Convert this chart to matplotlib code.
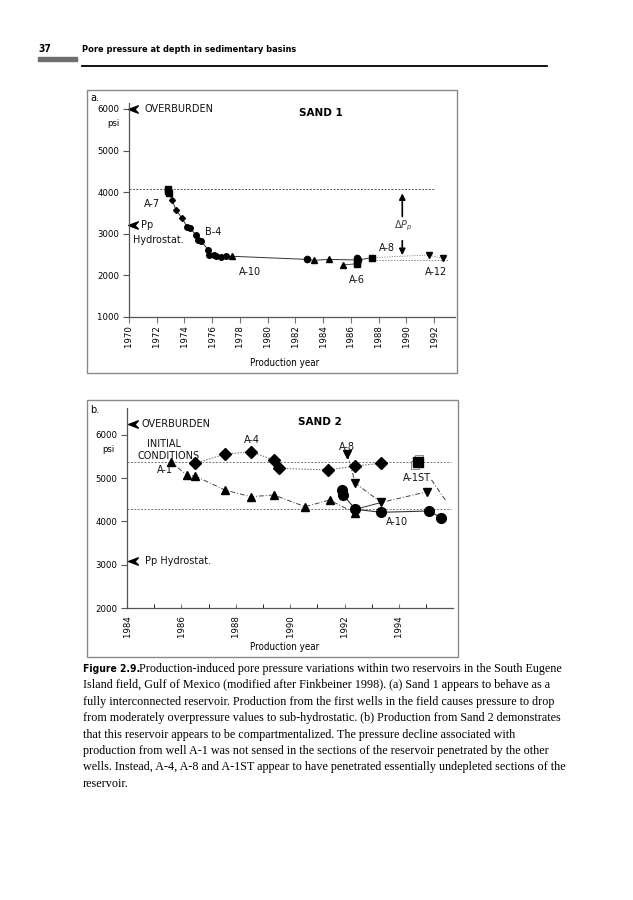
import numpy as np
import matplotlib.pyplot as plt
from matplotlib.path import Path
from matplotlib.patches import Rectangle
from matplotlib.lines import Line2D

# ---- Sand 1 data (year, psi) ----
s1_a7_year = [1972.8, 1972.8, 1972.85]
s1_a7_psi = [4080, 4030, 3990]
s1_dia_year = [1973.1, 1973.4, 1973.8]
s1_dia_psi = [3810, 3570, 3380]
s1_b4_year = [1974.2, 1974.4, 1974.8, 1975.0, 1975.2, 1975.7, 1975.8, 1976.1, 1976.3, 1976.6, 1977.0]
s1_b4_psi = [3170, 3140, 2980, 2860, 2820, 2620, 2500, 2500, 2460, 2440, 2460]
s1_a10_year = [1977.4, 1983.3, 1984.4]
s1_a10_psi = [2460, 2360, 2385]
s1_circ_year = [1982.8, 1986.45, 1986.5]
s1_circ_psi = [2385, 2420, 2370]
s1_a6_tri_year = [1985.4]
s1_a6_tri_psi = [2250]
s1_a6_year = [1986.4, 1986.45]
s1_a6_psi = [2280, 2320]
s1_a8_year = [1987.5]
s1_a8_psi = [2425]
s1_a12_year = [1991.6, 1992.6]
s1_a12_psi = [2490, 2410]
s1_initial = 4085
s1_final = 2370

# ---- Sand 2 data ----
s2_a1_year = [1985.6, 1986.2, 1986.5, 1987.6, 1988.55, 1989.4, 1990.55, 1991.45, 1992.4]
s2_a1_psi = [5383, 5075, 5052, 4728, 4573, 4613, 4342, 4497, 4190]
s2_a4_year = [1986.5, 1987.6, 1988.55, 1989.4, 1989.6, 1991.4, 1992.4, 1993.35]
s2_a4_psi = [5346, 5554, 5614, 5422, 5230, 5191, 5283, 5346]
s2_a8_year = [1992.1, 1992.4, 1993.35, 1995.05]
s2_a8_psi = [5554, 4884, 4440, 4689]
s2_a10_year = [1991.9, 1991.95, 1992.4, 1993.35, 1995.1, 1995.55]
s2_a10_psi = [4728, 4613, 4282, 4213, 4243, 4088]
s2_a1st_year = [1994.7]
s2_a1st_psi = [5383]
s2_a1st_tail_year = [1995.2, 1995.75]
s2_a1st_tail_psi = [4960, 4458]
s2_upper = 5370
s2_lower = 4285

W, H = 633, 900
fig = plt.figure(figsize=(W / 100, H / 100), dpi=100)
fig.patch.set_facecolor('white')

SANS = ['DejaVu Sans']
NARROW = dict(family='DejaVu Sans', stretch='condensed')


def px(x, y):
    return x / W, 1 - y / H


def ax_rect(l, t, r, b):
    return [l / W, 1 - b / H, (r - l) / W, (b - t) / H]


# chevron-like arrow head used for OVERBURDEN / hydrostat marks
chev = Path([(-1, 0), (1, 0.75), (0.3, 0), (1, -0.75), (-1, 0)],
            [Path.MOVETO, Path.LINETO, Path.LINETO, Path.LINETO, Path.CLOSEPOLY])

# ---- page header ----
fig.text(*px(38, 49), '37', fontsize=7.5, fontweight='bold', va='center', **NARROW)
fig.add_artist(Rectangle(px(38, 61), 39 / W, 4 / H, transform=fig.transFigure, color='#6e6e6e'))
fig.text(*px(82, 49), 'Pore pressure at depth in sedimentary basins', fontsize=6.6,
         fontweight='bold', va='center', **NARROW)
fig.add_artist(Line2D([82 / W, 547 / W], [1 - 66 / H, 1 - 66 / H], transform=fig.transFigure,
                      color='black', lw=1.3))

# panel frames
fig.add_artist(Rectangle(px(87, 373), 370 / W, 283 / H, transform=fig.transFigure,
                         fill=False, ec='#8a8a8a', lw=1))
fig.add_artist(Rectangle(px(87, 657), 371 / W, 257 / H, transform=fig.transFigure,
                         fill=False, ec='#8a8a8a', lw=1))


def style_axes(ax):
    for s in ['top', 'right']:
        ax.spines[s].set_visible(False)
    for s in ['left', 'bottom']:
        ax.spines[s].set_color('#555555')
        ax.spines[s].set_linewidth(0.9)
    ax.set_facecolor('none')
    ax.tick_params(axis='y', direction='out', length=4, width=0.8, color='#555555',
                   labelsize=6.8, pad=3)
    for lb in ax.get_yticklabels():
        lb.set_fontstretch('condensed')
    ax.tick_params(axis='x', labelsize=6.8, labelrotation=90, color='#777777')
    for lb in ax.get_xticklabels():
        lb.set_fontstretch('condensed')


# =============== Panel a ===============
ax1 = fig.add_axes(ax_rect(129, 103, 455, 317))
ax1.set_xlim(1970, 1993.5)
ax1.set_ylim(1000, 6144)
ax1.set_yticks([1000, 2000, 3000, 4000, 5000, 6000])
ax1.set_xticks(np.arange(1970, 1993, 2))
ax1.tick_params(axis='x', direction='out', length=4, pad=2)
style_axes(ax1)

ax1.hlines(s1_initial, 1970, 1992, colors='#555555', linestyles=(0, (2, 1.5)), lw=0.7)
ax1.hlines(s1_final, 1987.8, 1993.0, colors='#888888', linestyles=(0, (1.5, 1.5)), lw=0.7)

curve_x = s1_a7_year + s1_dia_year + s1_b4_year + [s1_a10_year[0], s1_circ_year[0]] + s1_a10_year[1:] + [s1_circ_year[2]] + s1_a8_year
curve_y = s1_a7_psi + s1_dia_psi + s1_b4_psi + [s1_a10_psi[0], s1_circ_psi[0]] + s1_a10_psi[1:] + [s1_circ_psi[2]] + s1_a8_psi
ax1.plot(curve_x, curve_y, color='#333333', lw=0.7)
ax1.plot(s1_a6_tri_year + s1_a6_year, s1_a6_tri_psi + s1_a6_psi, color='#333333', lw=0.6)
ax1.plot(s1_a8_year + s1_a12_year, s1_a8_psi + s1_a12_psi, color='#888888', lw=0.6,
         ls=(0, (1.5, 1.5)))

ax1.plot(s1_a7_year, s1_a7_psi, 's', color='black', ms=4.5)
ax1.plot(s1_dia_year, s1_dia_psi, 'D', color='black', ms=3)
ax1.plot(s1_b4_year, s1_b4_psi, 'o', color='black', ms=4)
ax1.plot(s1_a10_year, s1_a10_psi, '^', color='black', ms=4)
ax1.plot(s1_circ_year, s1_circ_psi, 'o', color='black', ms=4.5)
ax1.plot(s1_a6_tri_year, s1_a6_tri_psi, '^', color='black', ms=4)
ax1.plot(s1_a6_year, s1_a6_psi, 's', color='black', ms=4.5)
ax1.plot(s1_a8_year, s1_a8_psi, 's', color='black', ms=4.5)
ax1.plot(s1_a12_year, s1_a12_psi, 'v', color='black', ms=4)

ax1.plot([1970.3], [6000], marker=chev, color='black', ms=7, clip_on=False)
ax1.plot([1970.3], [3210], marker=chev, color='black', ms=7, clip_on=False)
tk = dict(fontsize=7, family=SANS, color='#111111')
ax1.text(1971.15, 6000, 'OVERBURDEN', va='center', ha='left', **tk)
ax1.text(1983.85, 5900, 'SAND 1', va='center', ha='center', fontsize=7.5,
         fontweight='bold', family=SANS)
ax1.text(1971.66, 3716, 'A-7', va='center', ha='center', **tk)
ax1.text(1970.85, 3210, 'Pp', va='center', ha='left', **tk)
ax1.text(1970.3, 2850, 'Hydrostat.', va='center', ha='left', **tk)
ax1.text(1975.5, 3043, 'B-4', va='center', ha='left', **tk)
ax1.text(1978.7, 2070, 'A-10', va='center', ha='center', **tk)
ax1.text(1986.4, 1880, 'A-6', va='center', ha='center', **tk)
ax1.text(1988.6, 2650, 'A-8', va='center', ha='center', **tk)
ax1.text(1992.1, 2090, 'A-12', va='center', ha='center', **tk)
ax1.text(1989.8, 3185, r'$\Delta P_p$', va='center', ha='center', fontsize=7, color='#444444')
ax1.annotate('', xy=(1989.7, 4040), xytext=(1989.7, 3350),
             arrowprops=dict(arrowstyle='-|>', color='black', lw=1.2, mutation_scale=9))
ax1.annotate('', xy=(1989.7, 2420), xytext=(1989.7, 2900),
             arrowprops=dict(arrowstyle='-|>', color='black', lw=1.2, mutation_scale=9))

fig.text(*px(113, 123), 'psi', fontsize=6.8, ha='center', va='center', **NARROW)
fig.text(*px(90, 98), 'a.', fontsize=7, family=SANS, ha='left', va='center')
fig.text(*px(285, 363), 'Production year', fontsize=7, ha='center', va='center', **NARROW)

# =============== Panel b ===============
ax2 = fig.add_axes(ax_rect(127, 408, 453, 608))
ax2.set_xlim(1984, 1995.99)
ax2.set_ylim(2000, 6624)
ax2.set_yticks([2000, 3000, 4000, 5000, 6000])
ax2.set_xticks(np.arange(1984, 1995, 2))
ax2.set_xticks(np.arange(1985, 1996, 2), minor=True)
ax2.tick_params(axis='x', which='both', direction='in', length=3, pad=5)
style_axes(ax2)

ax2.hlines([s2_upper, s2_lower], 1984, 1995.9, colors='#777777',
           linestyles=(0, (2, 1.5)), lw=0.7)

dashdot = (0, (5, 2, 1, 2))
ax2.plot(s2_a1_year, s2_a1_psi, color='#444444', lw=0.7, ls=dashdot)
ax2.plot(s2_a4_year, s2_a4_psi, color='#666666', lw=0.7, ls=(0, (1.5, 1.5)))
ax2.plot(s2_a8_year, s2_a8_psi, color='#444444', lw=0.7, ls=dashdot)
ax2.plot(s2_a10_year, s2_a10_psi, color='#333333', lw=0.8)
ax2.plot([s2_a10_year[2], s2_a8_year[2]], [s2_a10_psi[2], s2_a8_psi[2]], color='#333333', lw=0.7)
ax2.plot(s2_a1st_tail_year, s2_a1st_tail_psi, color='#444444', lw=0.7, ls=dashdot)

ax2.plot(s2_a1_year, s2_a1_psi, '^', color='black', ms=5.5)
ax2.plot([s2_a8_year[2], s2_a1_year[-1]], [4440, 4300], 'v', color='black', ms=5)
ax2.plot(s2_a4_year, s2_a4_psi, 'D', color='black', ms=6.5)
ax2.plot(s2_a8_year, s2_a8_psi, 'v', color='black', ms=5.5)
ax2.plot(s2_a10_year, s2_a10_psi, 'o', color='black', ms=7)
ax2.plot([1994.6, 1994.75], [5300, 5450], 's', mfc='none', mec='#777777', ms=6, mew=0.6)
ax2.plot(s2_a1st_year, s2_a1st_psi, 's', color='black', ms=6.5)

ax2.plot([1984.22], [6254], marker=chev, color='black', ms=7, clip_on=False)
ax2.plot([1984.22], [3087], marker=chev, color='black', ms=7, clip_on=False)
ax2.text(1984.55, 6254, 'OVERBURDEN', va='center', ha='left', **tk)
ax2.text(1991.1, 6300, 'SAND 2', va='center', ha='center', fontsize=7.5,
         fontweight='bold', family=SANS)
ax2.text(1985.36, 5792, 'INITIAL', va='center', ha='center', **tk)
ax2.text(1985.54, 5514, 'CONDITIONS', va='center', ha='center', **tk)
ax2.text(1985.4, 5190, 'A-1', va='center', ha='center', **tk)
ax2.text(1988.6, 5884, 'A-4', va='center', ha='center', **tk)
ax2.text(1992.1, 5723, 'A-8', va='center', ha='center', **tk)
ax2.text(1994.66, 5006, 'A-1ST', va='center', ha='center', **tk)
ax2.text(1993.93, 3988, 'A-10', va='center', ha='center', **tk)
ax2.text(1984.66, 3087, 'Pp Hydrostat.', va='center', ha='left', **tk)

fig.text(*px(108, 449), 'psi', fontsize=6.8, ha='center', va='center', **NARROW)
fig.text(*px(90, 410), 'b.', fontsize=7, family=SANS, ha='left', va='center')
fig.text(*px(285, 647), 'Production year', fontsize=7, ha='center', va='center', **NARROW)

# =============== caption ===============
cap_lines = [
    'Island field, Gulf of Mexico (modified after Finkbeiner 1998). (a) Sand 1 appears to behave as a',
    'fully interconnected reservoir. Production from the first wells in the field causes pressure to drop',
    'from moderately overpressure values to sub-hydrostatic. (b) Production from Sand 2 demonstrates',
    'that this reservoir appears to be compartmentalized. The pressure decline associated with',
    'production from well A-1 was not sensed in the sections of the reservoir penetrated by the other',
    'wells. Instead, A-4, A-8 and A-1ST appear to have penetrated essentially undepleted sections of the',
    'reservoir.',
]
serif = ['Liberation Serif', 'DejaVu Serif']
y0, dy = 669, 16.4
fig.text(*px(83, y0), 'Figure 2.9.', fontsize=7.4, fontweight='bold', va='center', **NARROW)
fig.text(*px(139, y0), 'Production-induced pore pressure variations within two reservoirs in the South Eugene',
         fontsize=8.75, family=serif, va='center')
for i, line in enumerate(cap_lines):
    fig.text(*px(83, y0 + dy * (i + 1)), line, fontsize=8.75, family=serif, va='center')

fig.savefig('out.png', dpi=100, facecolor='white')
